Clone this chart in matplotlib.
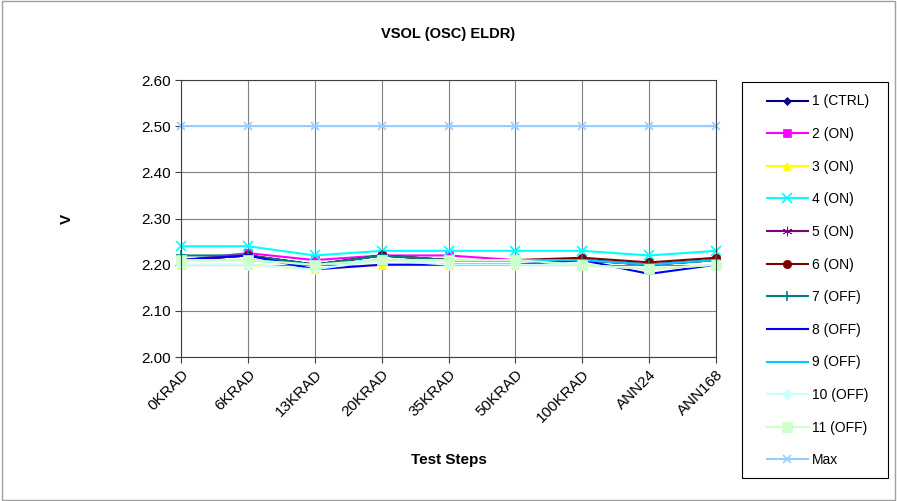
import numpy as np
import matplotlib.pyplot as plt
from matplotlib.patches import Rectangle

plt.rcParams['font.family'] = ['Liberation Sans', 'DejaVu Sans']

# Test steps on the x axis
steps = ['0KRAD', '6KRAD', '13KRAD', '20KRAD', '35KRAD', '50KRAD',
         '100KRAD', 'ANN24', 'ANN168']

# VSOL readings (V) per device
dev1 = [2.21, 2.22, 2.20, 2.22, 2.21, 2.21, 2.21, 2.20, 2.21]
dev2 = [2.21, 2.225, 2.21, 2.22, 2.22, 2.21, 2.21, 2.20, 2.21]
dev3 = [2.20, 2.20, 2.19, 2.20, 2.20, 2.20, 2.20, 2.19, 2.20]
dev4 = [2.24, 2.24, 2.22, 2.23, 2.23, 2.23, 2.23, 2.22, 2.23]
dev5 = [2.21, 2.22, 2.20, 2.22, 2.21, 2.21, 2.21, 2.20, 2.21]
dev6 = [2.21, 2.22, 2.20, 2.22, 2.21, 2.21, 2.215, 2.205, 2.215]
dev7 = [2.22, 2.22, 2.20, 2.22, 2.21, 2.21, 2.21, 2.20, 2.21]
dev8 = [2.21, 2.22, 2.19, 2.20, 2.20, 2.20, 2.21, 2.18, 2.20]
dev9 = [2.21, 2.21, 2.20, 2.21, 2.21, 2.21, 2.21, 2.20, 2.21]
dev10 = [2.20, 2.20, 2.19, 2.21, 2.20, 2.20, 2.20, 2.19, 2.20]
dev11 = [2.21, 2.21, 2.20, 2.21, 2.21, 2.21, 2.20, 2.19, 2.20]
max_limit = [2.50] * len(steps)

series = [
    ('1 (CTRL)', dev1, '#000080', 'D', 4),
    ('2 (ON)', dev2, '#FF00FF', 's', 6),
    ('3 (ON)', dev3, '#FFFF00', '^', 6),
    ('4 (ON)', dev4, '#00FFFF', 'x', 7),
    ('5 (ON)', dev5, '#800080', (6, 2, 0), 7),
    ('6 (ON)', dev6, '#800000', 'o', 6),
    ('7 (OFF)', dev7, '#008080', '+', 7),
    ('8 (OFF)', dev8, '#0000FF', '_', 6),
    ('9 (OFF)', dev9, '#00CCFF', '_', 6),
    ('10 (OFF)', dev10, '#CCFFFF', 'D', 5),
    ('11 (OFF)', dev11, '#CCFFCC', 's', 7),
    ('Max', max_limit, '#99CCFF', 'x', 6),
]

fig = plt.figure(figsize=(8.97, 5.01), dpi=100)
fig.patches.append(Rectangle((0.002, 0.002), 0.996, 0.996, transform=fig.transFigure,
                             fill=False, edgecolor='#A0A0A0', linewidth=1))
ax = fig.add_axes([0.2018, 0.2874, 0.5965, 0.5528])

x = np.arange(len(steps))
for label, vals, color, marker, ms in series:
    ax.plot(x, vals, color=color, marker=marker, markersize=ms, linewidth=1.5,
            markeredgewidth=1.2 if marker in ('x', '+', '_') else 0.5,
            markeredgecolor=color, label=label, clip_on=False)

ax.set_xlim(0, len(steps) - 1)
ax.set_ylim(2.0, 2.6)
ax.set_yticks(np.arange(2.0, 2.61, 0.1))
ax.set_yticklabels([f'{v:.2f}' for v in np.arange(2.0, 2.61, 0.1)], fontsize=11)
ax.set_xticks(x)
ax.set_xticklabels(steps, rotation=45, ha='right', rotation_mode='anchor', fontsize=11)
ax.grid(True, color='#808080', linewidth=0.8)
ax.set_axisbelow(True)
for s in ax.spines.values():
    s.set_color('#404040')
ax.tick_params(length=4, color='#404040')

fig.text(0.5, 0.933, 'VSOL (OSC) ELDR)', ha='center', va='center',
         fontsize=10.5, fontweight='bold')
fig.text(0.5, 0.082, 'Test Steps', ha='center', va='center',
         fontsize=11, fontweight='bold')
fig.text(0.075, 0.563, 'V', ha='center', va='center', rotation=90,
         fontsize=11, fontweight='bold')

# legend frame drawn separately so the padding matches the original
fig.patches.append(Rectangle((0.8272, 0.0459), 0.1628, 0.790, transform=fig.transFigure,
                             fill=False, edgecolor='black', linewidth=0.8))
leg = fig.legend(loc='upper left', bbox_to_anchor=(0.855, 0.8114), fontsize=10,
                 frameon=False, labelspacing=1.34, handlelength=2.95,
                 handletextpad=0.3, borderpad=0, borderaxespad=0)

fig.savefig('out.png', dpi=100)
